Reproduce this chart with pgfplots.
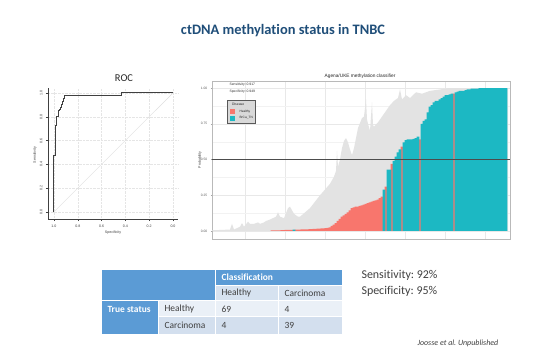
\documentclass[border=0pt]{standalone}
\usepackage{pgfplots}
\pgfplotsset{compat=1.18}
\usepackage{fontspec}
\setmainfont{Carlito}[Ligatures={NoCommon}]
\newfontfamily\rfont{Liberation Sans}
\definecolor{hcol}{HTML}{F8766D}
\definecolor{ccol}{HTML}{1CB8C3}
\definecolor{titleblue}{HTML}{1F4E79}
\definecolor{tdark}{HTML}{5B9BD5}
\definecolor{trowtwo}{HTML}{D6E2F0}
\definecolor{trowthree}{HTML}{EAF0F7}
\definecolor{trowfour}{HTML}{D3DFEE}
\definecolor{ttext}{HTML}{404040}
\definecolor{envgrey}{HTML}{E3E3E3}

\pgfplotstableread{
x y
1 0
1 0.005
10 0.01
11 0.05
12 0.01
15 0.03
16 0.055
17 0.03
19 0.065
20 0.05
22 0.05
24 0.06
25 0.05
27 0.06
28 0.07
30 0.08
33 0.10
34 0.13
35 0.10
37 0.09
39 0.16
40 0.17
42 0.12
44 0.10
45 0.10
50 0.16
55 0.25
60 0.33
62 0.38
63 0.42
63.5 0.56
64 0.45
65 0.50
66 0.58
67 0.63
68 0.65
69 0.62
70 0.57
71 0.53
72 0.58
74 0.72
76 0.79
77 0.80
78 0.92
78.5 0.78
79 0.75
80 0.70
81 0.90
81.5 0.74
82 0.73
84 0.76
86 0.80
88 0.84
90 0.88
92 0.91
94 0.93
95 0.99
96 0.92
98 0.95
100 0.93
103 0.97
106 0.96
110 0.98
115 0.99
120 1.0
149 1.0
149 0
}\envtable

\pgfplotstableread{
x y
31 0.004
32 0.004
33 0.005
34 0.005
35 0.005
36 0.006
37 0.006
38 0.007
39 0.007
40 0.008
41 0.008
43 0.009
44 0.010
45 0.010
46 0.011
47 0.011
48 0.012
49 0.012
50 0.013
51 0.013
52 0.014
53 0.015
54 0.016
55 0.017
56 0.018
57 0.019
58 0.020
59 0.022
60 0.025
61 0.035
62 0.045
63 0.055
64 0.07
65 0.085
66 0.10
67 0.11
68 0.12
69 0.13
70 0.145
71 0.16
72 0.165
73 0.17
74 0.17
75 0.175
76 0.18
77 0.185
78 0.19
79 0.195
80 0.20
81 0.205
82 0.21
83 0.215
84 0.22
85 0.23
86 0.24
88 0.31
91 0.47
96 0.59
105 0.64
122 0.96
}\healthytable

\pgfplotstableread{
x y
42 0.01
87 0.29
89 0.43
90 0.43
92 0.49
93 0.52
94 0.55
95 0.57
97 0.62
98 0.635
99 0.64
100 0.64
101 0.64
102 0.645
103 0.65
104 0.66
106 0.75
107 0.77
108 0.78
109 0.83
110 0.87
111 0.88
112 0.90
113 0.91
114 0.91
115 0.92
116 0.93
117 0.94
118 0.95
119 0.95
120 0.955
121 0.96
123 0.97
124 0.975
125 0.98
126 0.98
127 0.98
128 0.985
129 0.99
130 0.99
131 0.995
132 0.995
133 0.995
134 0.995
135 1.0
136 1.0
137 1.0
138 1.0
139 1.0
140 1.0
141 1.0
142 1.0
143 1.0
144 1.0
145 1.0
146 1.0
147 1.0
148 1.0
}\cancertable

\begin{document}
\frenchspacing
\begin{tikzpicture}
\useasboundingbox (0,0) rectangle (550bp,-354bp);
\fill[white] (0,0) rectangle (550bp,-354bp);

% slide title
\node[font=\bfseries\fontsize{14.5}{16}\selectfont, text=titleblue] at (283bp,-31bp) {ctDNA methylation status in TNBC};

% ---------------- ROC ----------------
\begin{axis}[at={(48bp,-219bp)}, anchor=south west,
  width=130bp, height=131bp, scale only axis,
  x dir=reverse, xmin=-0.042, xmax=1.05, ymin=-0.06, ymax=1.042,
  axis lines=left, axis line style={-, black!75, line width=0.35bp},
  xtick={0,0.2,0.4,0.6,0.8,1}, ytick={0,0.2,0.4,0.6,0.8,1},
  xticklabels={0.0,0.2,0.4,0.6,0.8,1.0}, yticklabels={0.0,0.2,0.4,0.6,0.8,1.0},
  grid=major, grid style={densely dotted, gray!20, line width=0.25bp},
  tick align=outside, major tick length=2bp,
  tick style={black!75, line width=0.3bp},
  /pgf/number format/assume math mode=true,
  ticklabel style={font=\rfont\fontsize{3.6}{4}\selectfont, text=black!75},
  yticklabel style={rotate=90, anchor=south},
  xticklabel style={anchor=north},
  clip=false]
\addplot[gray!25, line width=0.4bp] coordinates {(1,0) (0,1)};
\addplot[black!75, line width=1bp] coordinates {
(1.0,0.0) (1.0,0.47) (0.983,0.47) (0.983,0.73) (0.975,0.73) (0.975,0.80)
(0.964,0.80) (0.964,0.83) (0.958,0.83) (0.958,0.85) (0.950,0.85) (0.950,0.86)
(0.944,0.86) (0.944,0.88) (0.940,0.88) (0.940,0.90) (0.930,0.90) (0.930,0.93)
(0.920,0.93) (0.920,0.95) (0.910,0.95) (0.910,0.977) (0.435,0.977) (0.435,1.0) (0.0,1.0)};
\end{axis}
\node[font=\fontsize{10.5}{12}\selectfont, text=black!85] at (124bp,-78bp) {ROC};
\node[font=\rfont\fontsize{3.6}{4}\selectfont, text=black!75] at (113bp,-233bp) {Specificity};
\node[font=\rfont\fontsize{3.6}{4}\selectfont, text=black!75, rotate=90] at (35bp,-155bp) {Sensitivity};

% ---------------- classifier bars ----------------
\begin{axis}[at={(212bp,-239bp)}, anchor=south west,
  width=298bp, height=158bp, scale only axis,
  xmin=1, xmax=150, ymin=-0.056, ymax=1.049,
  axis line style={gray!55, line width=0.4bp},
  xtick={17.5,37.5,57.5,77.5,97.5,117.5,137.5}, xticklabels={},
  ytick={0,0.25,0.5,0.75,1}, yticklabels={0.00,0.25,0.50,0.75,1.00},
  minor ytick={0.125,0.375,0.625,0.875},
  ytick pos=left,
  grid=both, major grid style={gray!18, line width=0.35bp},
  minor grid style={gray!10, line width=0.25bp},
  major tick length=1.2bp, tick align=outside,
  tick style={gray!70, line width=0.3bp},
  xtick style={draw=none}, minor tick length=0pt,
  /pgf/number format/assume math mode=true,
  ticklabel style={font=\rfont\fontsize{3.3}{4}\selectfont, text=black!65},
  clip=false]
\addplot[fill=envgrey, draw=none] table[x=x, y=y] {\envtable};
\addplot[ybar, bar width=1.35, bar shift=0pt, fill=hcol, draw=none] table[x=x, y=y] {\healthytable};
\addplot[ybar, bar width=1.35, bar shift=0pt, fill=ccol, draw=none] table[x=x, y=y] {\cancertable};
\addplot[black!70, line width=0.5bp] coordinates {(1,0.5) (150,0.5)};
\end{axis}
\node[font=\rfont\fontsize{4.8}{5}\selectfont, text=black!85] at (360bp,-76bp) {Agena/UKE methylation classifier};
\node[font=\rfont\fontsize{3.6}{4}\selectfont, text=black!75, rotate=90] at (200bp,-160bp) {Probability};
\node[font=\rfont\fontsize{3.4}{4}\selectfont, text=black!80, anchor=west] at (226bp,-85bp) {Sensitivity: 0.917};
\node[font=\rfont\fontsize{3.4}{4}\selectfont, text=black!80, anchor=west] at (226bp,-91.5bp) {Specificity: 0.949};
% legend
\draw[fill=gray!30, draw=black!65, line width=0.35bp] (227bp,-100bp) rectangle (255bp,-123bp);
\node[font=\rfont\fontsize{3.4}{4}\selectfont, text=black!85, anchor=west] at (228.5bp,-103.8bp) {Disease};
\fill[hcol] (230bp,-108.5bp) rectangle (235bp,-114bp);
\fill[ccol] (230bp,-115.5bp) rectangle (235bp,-121bp);
\node[font=\rfont\fontsize{3.2}{4}\selectfont, text=black!85, anchor=west] at (236bp,-111.2bp) {Healthy};
\node[font=\rfont\fontsize{3.2}{4}\selectfont, text=black!85, anchor=west] at (236bp,-118.2bp) {BrCa\_TN};

% ---------------- table ----------------
\fill[tdark] (102bp,-270bp) rectangle (215bp,-300bp);
\fill[tdark] (215bp,-270bp) rectangle (342bp,-285bp);
\fill[tdark] (102bp,-301bp) rectangle (158bp,-334bp);
\fill[trowtwo] (215bp,-285bp) rectangle (342bp,-300bp);
\fill[trowthree] (158bp,-301bp) rectangle (342bp,-316.5bp);
\fill[trowfour] (158bp,-316.5bp) rectangle (342bp,-334bp);
\draw[white, line width=0.8bp] (215bp,-270bp) -- (215bp,-334bp);
\draw[white, line width=0.8bp] (278bp,-285bp) -- (278bp,-334bp);
\draw[white, line width=0.8bp] (158bp,-301bp) -- (158bp,-334bp);
\draw[white, line width=0.8bp] (215bp,-285bp) -- (342bp,-285bp);
\draw[white, line width=1.2bp] (102bp,-300.5bp) -- (342bp,-300.5bp);
\draw[white, line width=0.8bp] (158bp,-316.5bp) -- (342bp,-316.5bp);
\begin{scope}[every node/.style={anchor=west, font=\fontsize{9.5}{11}\selectfont, text=ttext}]
\node[font=\bfseries\fontsize{9.5}{11}\selectfont, text=white] at (218bp,-277.5bp) {Classification};
\node at (218bp,-293bp) {Healthy};
\node at (281bp,-293bp) {Carcinoma};
\node[font=\bfseries\fontsize{9.5}{11}\selectfont, text=white] at (104bp,-309bp) {True status};
\node at (161bp,-309bp) {Healthy};
\node at (161bp,-325bp) {Carcinoma};
\node at (218bp,-309bp) {69};
\node at (281bp,-309bp) {4};
\node at (218bp,-325bp) {4};
\node at (281bp,-325bp) {39};
\end{scope}

\node[anchor=west, font=\fontsize{12}{14}\selectfont, text=ttext] at (358bp,-275.5bp) {Sensitivity: 92\%};
\node[anchor=west, font=\fontsize{12}{14}\selectfont, text=ttext] at (358bp,-291bp) {Specificity: 95\%};
\node[anchor=west, font=\itshape\fontsize{8}{10}\selectfont, text=ttext] at (414bp,-343bp) {Joosse et al. Unpublished};
\end{tikzpicture}
\end{document}
